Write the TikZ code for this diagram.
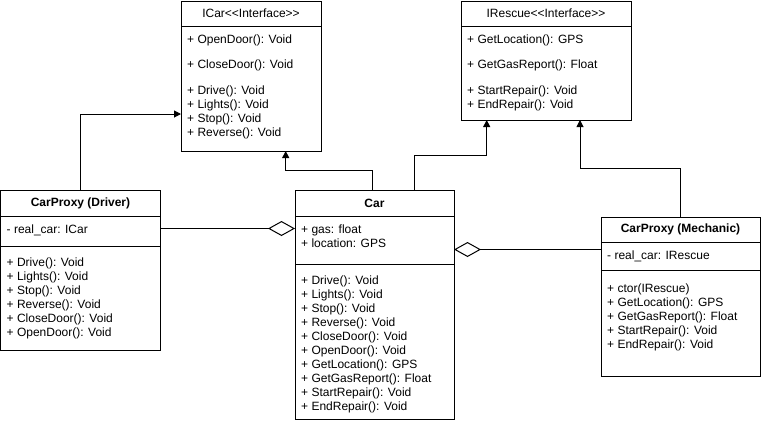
\documentclass[tikz,border=0pt]{standalone}
\usepackage{fontspec}
\setmainfont{Liberation Sans}
\usetikzlibrary{arrows.meta}
\begin{document}
\begin{tikzpicture}[x=1pt,y=-1pt,
  box/.style={draw,line width=1pt,anchor=north west,inner sep=0pt,outer sep=0pt},
  sep/.style={line width=1pt},
  txt/.style={anchor=west,align=left,inner sep=0pt,font=\fontsize{12}{14}\selectfont},
  ttl/.style={anchor=center,inner sep=0pt,font=\fontsize{12}{14}\selectfont},
  bttl/.style={ttl,font=\fontsize{12}{14}\selectfont\bfseries},
  arr/.style={line width=1pt,-{Triangle[length=7pt,width=7pt]}},
  agg/.style={line width=1pt,-{Diamond[open,length=27pt,width=15pt,fill=white]}}
]
\useasboundingbox (0,0) rectangle (761,424);

% ICar
\node[box,minimum width=140pt,minimum height=150pt] (icar) at (181,1) {};
\draw[sep] (icar.west |- 0,26) -- (icar.east |- 0,26);
\node[ttl] (icart) at (251,13.5) {ICar<{}<Interface>{}>};
\node[txt] (icar1) at (187,40) {+ OpenDoor(): Void};
\node[txt] (icar2) at (187,65.3) {+ CloseDoor(): Void};
\node[txt] (icar3) at (187,112.2) {+ Drive(): Void\\+ Lights(): Void\\+ Stop(): Void\\+ Reverse(): Void};

% IRescue
\node[box,minimum width=170pt,minimum height=119pt] (ires) at (461,1) {};
\draw[sep] (ires.west |- 0,26) -- (ires.east |- 0,26);
\node[ttl] (irest) at (546,13.5) {IRescue<{}<Interface>{}>};
\node[txt] (ires1) at (467,40) {+ GetLocation(): GPS};
\node[txt] (ires2) at (467,65.3) {+ GetGasReport(): Float};
\node[txt] (ires3) at (467,98.3) {+ StartRepair(): Void\\+ EndRepair(): Void};

% CarProxy (Driver)
\node[box,minimum width=160pt,minimum height=160pt] (drv) at (0.5,190) {};
\draw[sep] (drv.west |- 0,216) -- (drv.east |- 0,216);
\draw[sep] (drv.west |- 0,246) -- (drv.east |- 0,246);
\node[bttl] (drvt) at (80.5,203.5) {CarProxy (Driver)};
\node[txt] (drv1) at (6.5,230) {- real\_car: ICar};
\node[txt] (drv2) at (6.5,298.3) {+ Drive(): Void\\+ Lights(): Void\\+ Stop(): Void\\+ Reverse(): Void\\+ CloseDoor(): Void\\+ OpenDoor(): Void};

% Car
\node[box,minimum width=159pt,minimum height=229pt] (car) at (295,190) {};
\draw[sep] (car.west |- 0,216.5) -- (car.east |- 0,216.5);
\draw[sep] (car.west |- 0,264) -- (car.east |- 0,264);
\node[bttl] (cart) at (374.5,203.5) {Car};
\node[txt] (car1) at (301,236.5) {+ gas: float\\+ location: GPS};
\node[txt] (car2) at (301,344.5) {+ Drive(): Void\\+ Lights(): Void\\+ Stop(): Void\\+ Reverse(): Void\\+ CloseDoor(): Void\\+ OpenDoor(): Void\\+ GetLocation(): GPS\\+ GetGasReport(): Float\\+ StartRepair(): Void\\+ EndRepair(): Void};

% CarProxy (Mechanic)
\node[box,minimum width=159pt,minimum height=159pt] (mech) at (601,217) {};
\draw[sep] (mech.west |- 0,242) -- (mech.east |- 0,242);
\draw[sep] (mech.west |- 0,270.5) -- (mech.east |- 0,270.5);
\node[bttl] (mecht) at (680.5,229.5) {CarProxy (Mechanic)};
\node[txt] (mech1) at (607,256) {- real\_car: IRescue};
\node[txt] (mech2) at (607,317.7) {+ ctor(IRescue)\\+ GetLocation(): GPS\\+ GetGasReport(): Float\\+ StartRepair(): Void\\+ EndRepair(): Void};

% connectors
\coordinate (d1) at (0,114);
\draw[arr] (drv.north) |- (icar.west |- d1);

\coordinate (c1) at (372,170);
\coordinate (c1t) at (285.7,170);
\draw[arr] (car.north -| c1) -- (c1) -- (c1t) -- (icar.south -| c1t);

\coordinate (c2) at (414.7,155);
\coordinate (c2t) at (486.7,155);
\draw[arr] (car.north -| c2) -- (c2) -- (c2t) -- (ires.south -| c2t);

\coordinate (c3) at (580,168);
\draw[arr] (mech.north) |- (c3) -- (ires.south -| c3);

\coordinate (a1) at (0,228.5);
\draw[agg] (drv.east |- a1) -- (car.west |- a1);
\coordinate (a2) at (0,249.5);
\draw[agg] (mech.west |- a2) -- (car.east |- a2);
\end{tikzpicture}
\end{document}
